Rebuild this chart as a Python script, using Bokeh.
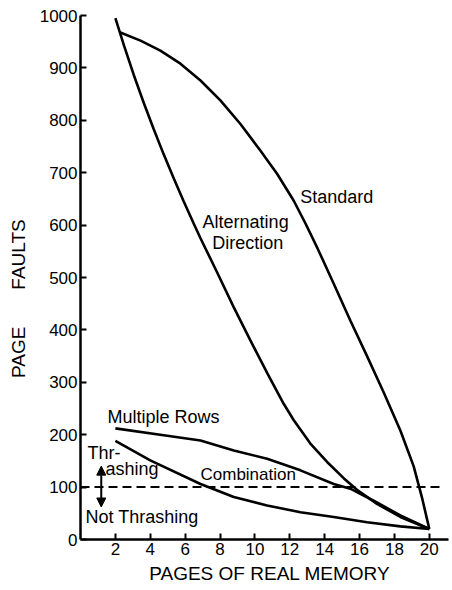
from bokeh.plotting import figure
from bokeh.models import Label, Arrow, NormalHead, FixedTicker, Range1d, LinearAxis
from bokeh.embed import file_html
from bokeh.resources import INLINE

# ---- data ----
std_x = [2.25, 3.44, 4.58, 5.73, 6.88, 8.02, 9.17, 10.32, 11.27, 12.22, 12.9, 13.6,
         14.52, 15.47, 16.43, 17.38, 18.34, 19.1, 19.58, 20.0]
std_y = [968, 952, 933, 908, 876, 838, 793, 742, 698, 647, 603, 555,
         488, 418, 350, 281, 208, 140, 80, 20]

alt_x = [2.0, 2.5, 3.05, 3.63, 4.2, 4.77, 5.35, 5.92, 6.49, 6.88, 7.83, 8.79, 9.74,
         10.7, 11.65, 12.22, 13.18, 14.14, 15.09, 15.85, 17.0, 18.34, 20.0]
alt_y = [995, 942, 887, 833, 783, 735, 689, 645, 603, 575, 510, 443, 380,
         318, 259, 228, 183, 148, 117, 95, 68, 43, 20]

mult_x = [2.0, 4.97, 6.88, 8.79, 10.7, 12.61, 14.52, 15.47, 16.81, 18.34, 20.0]
mult_y = [212, 198, 189, 170, 154, 132, 106, 97, 74, 46, 20]

comb_x = [2.0, 4.0, 6.88, 8.79, 10.7, 12.61, 14.52, 16.43, 18.34, 20.0]
comb_y = [188, 151, 106, 81, 65, 52, 43, 33, 25, 20]

thresh_x = [0, 20.75]
thresh_y = [100, 100]

x_ticks = [2, 4, 6, 8, 10, 12, 14, 16, 18, 20]
y_ticks = [0, 100, 200, 300, 400, 500, 600, 700, 800, 900, 1000]

FONT = "Liberation Sans"
NB = "\u00a0"

p = figure(width=452, height=590, min_border_left=80, min_border_top=15,
           min_border_bottom=51, min_border_right=4,
           x_range=Range1d(0, 21.1), y_range=Range1d(0, 1000),
           output_backend="svg", toolbar_location=None)
p.outline_line_color = None
p.grid.visible = False
p.background_fill_color = "white"

for ax in (p.xaxis[0], p.yaxis[0]):
    ax.axis_line_width = 2.5
    ax.axis_line_color = "black"
    ax.major_tick_line_width = 2
    ax.major_tick_line_color = "black"
    ax.major_tick_in = 6
    ax.major_tick_out = 0
    ax.minor_tick_line_color = None
    ax.major_label_text_font = FONT
    ax.major_label_text_font_size = "17px"
    ax.major_label_text_color = "black"

p.xaxis.ticker = FixedTicker(ticks=x_ticks)
p.yaxis.ticker = FixedTicker(ticks=y_ticks)
p.xaxis.major_label_standoff = 3
p.yaxis.major_label_standoff = 3

# axis titles on label-only axes
def title_axis(label, side, standoff):
    a = LinearAxis(ticker=FixedTicker(ticks=[]), axis_label=label,
                   axis_line_color=None, major_tick_line_color=None,
                   minor_tick_line_color=None, major_label_text_font_size="0px",
                   axis_label_text_font=FONT, axis_label_text_font_size="19px",
                   axis_label_text_font_style="normal", axis_label_text_color="black",
                   axis_label_standoff=standoff)
    p.add_layout(a, side)

title_axis(NB * 2 + "PAGES OF REAL MEMORY", "below", 5)
title_axis("PAGE" + NB * 7 + "FAULTS" + NB * 8, "left", 8)

lw = 2.6
p.line(std_x, std_y, line_width=lw, color="black")
p.line(alt_x, alt_y, line_width=lw, color="black")
p.line(mult_x, mult_y, line_width=lw, color="black")
p.line(comb_x, comb_y, line_width=lw, color="black")
p.line(thresh_x, thresh_y, line_width=2, color="black", line_dash="9 5")

def lab(text, x, y, size="18px"):
    p.add_layout(Label(x=x, y=y, text=text, text_font=FONT, text_font_size=size,
                       text_color="black", text_align="left", text_baseline="middle"))

lab("Standard", 12.6, 653)
lab("Alternating", 7.0, 605)
lab("Direction", 7.56, 565)
lab("Multiple Rows", 1.55, 233)
lab("Combination", 6.88, 124, size="17px")
lab("Thr-", 0.4, 166)
lab("ashing", 1.43, 134)
lab("Not Thrashing", 0.29, 42)

p.add_layout(Arrow(x_start=1.19, y_start=62, x_end=1.19, y_end=140,
                   line_width=2, line_color="black",
                   start=NormalHead(size=9, fill_color="black", line_color="black"),
                   end=NormalHead(size=9, fill_color="black", line_color="black")))

open("out.html", "w").write(file_html(p, INLINE))
